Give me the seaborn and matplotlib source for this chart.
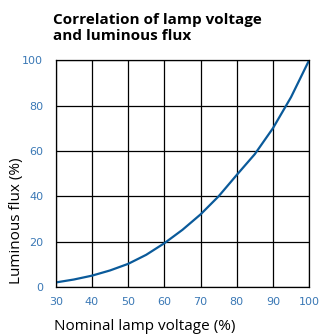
import matplotlib
matplotlib.use("Agg")
import matplotlib.pyplot as plt
import seaborn as sns
import pandas as pd

# Lamp voltage (% of nominal) vs. luminous flux (% of nominal)
voltage = [30, 35, 40, 45, 50, 55, 60, 65, 70, 75, 80, 85, 90, 95, 100]
flux = [2.0, 3.3, 5.0, 7.3, 10.2, 14.2, 19.3, 25.2, 32.0, 40.0, 49.4, 58.6, 70.0, 83.7, 100.0]
x_ticks = [30, 40, 50, 60, 70, 80, 90, 100]
y_ticks = [0, 20, 40, 60, 80, 100]

df = pd.DataFrame({"voltage": voltage, "flux": flux})

sns.set_theme(style="white")
plt.rcParams["font.family"] = ["Open Sans", "DejaVu Sans"]

fig = plt.figure(figsize=(3.22, 3.34), dpi=100)
ax = fig.add_axes([0.173, 0.1407, 0.787, 0.679])

sns.lineplot(data=df, x="voltage", y="flux", ax=ax, color="#0a5a9a", linewidth=1.6)

ax.set_xlim(30, 100)
ax.set_ylim(0, 100)
ax.set_xticks(x_ticks)
ax.set_yticks(y_ticks)
ax.grid(True, color="black", linewidth=0.9)
ax.set_axisbelow(True)
for s in ax.spines.values():
    s.set_color("black")
    s.set_linewidth(0.9)

tick_color = "#3a78b5"
ax.tick_params(axis="both", length=0, labelsize=8, labelcolor=tick_color)
ax.tick_params(axis="x", pad=7)
ax.tick_params(axis="y", pad=9)
for lab in ax.get_xticklabels() + ax.get_yticklabels():
    lab.set_family("DejaVu Sans")

ax.set_xlabel("Nominal lamp voltage (%)", fontsize=11, color="black", ha="left")
ax.xaxis.set_label_coords(-0.007, -0.141)
ax.set_ylabel("Luminous flux (%)", fontsize=11, color="black")
ax.yaxis.set_label_coords(-0.125, 0.291)

fig.text(0.166, 0.962, "Correlation of lamp voltage\nand luminous flux",
         ha="left", va="top", fontsize=11, fontweight="bold", color="black",
         linespacing=1.2)

fig.savefig("out.png", dpi=100)
